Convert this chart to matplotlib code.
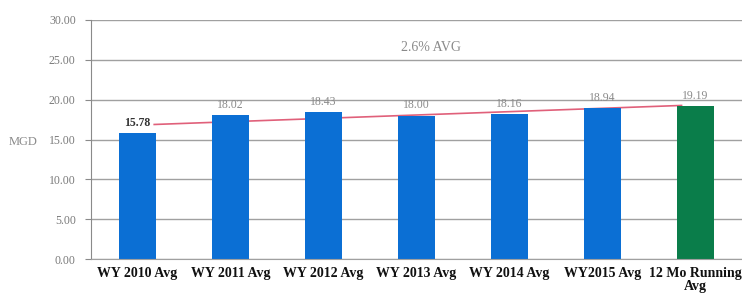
import numpy as np
import matplotlib.pyplot as plt

categories = ['WY 2010 Avg', 'WY 2011 Avg', 'WY 2012 Avg', 'WY 2013 Avg',
              'WY 2014 Avg', 'WY2015 Avg', '12 Mo Running\nAvg']
values = [15.78, 18.02, 18.43, 18.00, 18.16, 18.94, 19.19]
value_labels = ['15.78', '18.02', '18.43', '18.00', '18.16', '18.94', '19.19']
bar_colors = ['#0b6fd4'] * 6 + ['#0a7d4a']
yticks = [0, 5, 10, 15, 20, 25, 30]

plt.rcParams['font.family'] = ['Liberation Serif', 'DejaVu Serif']

fig = plt.figure(figsize=(7.42, 3.03), dpi=100)
ax = fig.add_axes([0.1226, 0.1452, 0.8774, 0.7888])

x = np.arange(len(categories))

# linear trendline behind the bars
coef = np.polyfit(x, values, 1)
tx = np.array([0.18, 5.85])
ax.plot(tx, np.polyval(coef, tx), color='#e0607a', lw=1.2, zorder=1)

ax.bar(x, values, width=0.4, color=bar_colors, zorder=2)

for i, (v, lab) in enumerate(zip(values, value_labels)):
    if i == 0:
        ax.annotate(lab, (i, v), xytext=(0, 3), textcoords='offset points',
                    ha='center', va='bottom', fontsize=8.5, color='#333333',
                    fontweight='bold')
    else:
        ax.annotate(lab, (i, v), xytext=(0, 3), textcoords='offset points',
                    ha='center', va='bottom', fontsize=8.5, color='#8a8a8a')

ax.text(3.16, 26.5, '2.6% AVG', ha='center', va='center', fontsize=10,
        color='#8a8a8a')

ax.set_xlim(-0.5, 6.5)
ax.set_ylim(0, 30)
ax.set_yticks(yticks)
ax.set_yticklabels(['%.2f' % t for t in yticks], fontsize=8.5, color='#7a7a7a')
ax.set_xticks(x)
ax.set_xticklabels(categories, fontsize=10, fontweight='bold', color='#111111',
                   linespacing=0.95)
ax.tick_params(axis='x', length=0, pad=6)
ax.tick_params(axis='y', length=4, color='#8a8a8a', pad=7)

ax.set_ylabel('MGD', rotation=0, fontsize=9, color='#8a8a8a', va='center')
ax.yaxis.set_label_coords(-0.105, 0.49)

ax.grid(axis='y', color='#a0a0a0', lw=1.0, zorder=0)
ax.set_axisbelow(True)
for s in ['top', 'right']:
    ax.spines[s].set_visible(False)
ax.spines['left'].set_color('#8a8a8a')
ax.spines['bottom'].set_color('#a0a0a0')

fig.savefig('out.png', dpi=100)
